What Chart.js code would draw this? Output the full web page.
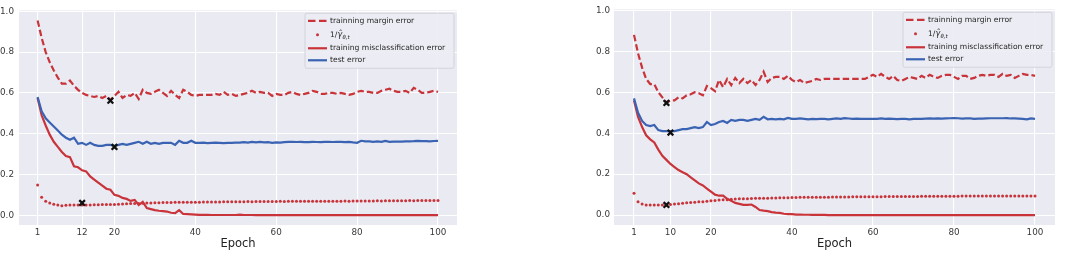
<!DOCTYPE html>
<html lang="en">
<head>
<meta charset="UTF-8">
<title>Margin error vs epoch</title>
<script src="https://cdn.jsdelivr.net/npm/chart.js"></script>
<style>
  html, body { margin: 0; padding: 0; background: #fff; }
  #wrap { position: relative; width: 1074px; height: 253px; }
  canvas { position: absolute; top: 0; }
  #left { left: 0; }
  #right { left: 537px; }
</style>
</head>
<body>
<div id="wrap">
  <canvas id="left" width="537" height="253"></canvas>
  <canvas id="right" width="537" height="253"></canvas>
</div>
<script>
// x categories
const epochs = [
  1, 2, 3, 4, 5, 6, 7, 8, 9, 10, 11, 12, 13, 14, 15, 16, 17, 18, 19, 20,
  21, 22, 23, 24, 25, 26, 27, 28, 29, 30, 31, 32, 33, 34, 35, 36, 37, 38, 39, 40,
  41, 42, 43, 44, 45, 46, 47, 48, 49, 50, 51, 52, 53, 54, 55, 56, 57, 58, 59, 60,
  61, 62, 63, 64, 65, 66, 67, 68, 69, 70, 71, 72, 73, 74, 75, 76, 77, 78, 79, 80,
  81, 82, 83, 84, 85, 86, 87, 88, 89, 90, 91, 92, 93, 94, 95, 96, 97, 98, 99, 100
];
const yTicks = [0, 0.2, 0.4, 0.6, 0.8, 1.0];
const leftXTicks = [1, 12, 20, 40, 60, 80, 100];
const rightXTicks = [1, 10, 20, 40, 60, 80, 100];

// left panel
const leftMargin = [
  0.955, 0.87, 0.80, 0.75, 0.71, 0.675, 0.645, 0.645, 0.66, 0.635,
  0.615, 0.60, 0.59, 0.585, 0.58, 0.585, 0.575, 0.585, 0.565, 0.585,
  0.605, 0.575, 0.59, 0.585, 0.60, 0.57, 0.615, 0.60, 0.595, 0.605,
  0.615, 0.60, 0.585, 0.61, 0.59, 0.575, 0.615, 0.605, 0.59, 0.585,
  0.59, 0.59, 0.59, 0.59, 0.595, 0.59, 0.605, 0.59, 0.595, 0.585,
  0.59, 0.595, 0.60, 0.61, 0.60, 0.605, 0.60, 0.60, 0.585, 0.595,
  0.59, 0.59, 0.60, 0.605, 0.595, 0.59, 0.595, 0.60, 0.61, 0.605,
  0.595, 0.595, 0.60, 0.60, 0.595, 0.60, 0.595, 0.59, 0.595, 0.605,
  0.61, 0.605, 0.605, 0.60, 0.60, 0.61, 0.615, 0.62, 0.61, 0.605,
  0.605, 0.61, 0.60, 0.625, 0.615, 0.60, 0.60, 0.605, 0.61, 0.605
];
const leftGamma = [
  0.148, 0.088, 0.068, 0.06, 0.054, 0.05, 0.046, 0.049, 0.05, 0.05,
  0.05, 0.05, 0.05, 0.05, 0.051, 0.051, 0.052, 0.052, 0.053, 0.052,
  0.054, 0.055, 0.056, 0.057, 0.058, 0.058, 0.059, 0.06, 0.06, 0.061,
  0.061, 0.062, 0.062, 0.062, 0.063, 0.063, 0.063, 0.064, 0.064, 0.064,
  0.064, 0.065, 0.065, 0.065, 0.065, 0.065, 0.066, 0.066, 0.066, 0.066,
  0.066, 0.066, 0.067, 0.066, 0.067, 0.067, 0.067, 0.067, 0.067, 0.067,
  0.068, 0.067, 0.068, 0.068, 0.068, 0.068, 0.068, 0.068, 0.069, 0.068,
  0.069, 0.069, 0.069, 0.069, 0.069, 0.069, 0.07, 0.069, 0.07, 0.07,
  0.07, 0.07, 0.07, 0.07, 0.071, 0.07, 0.071, 0.071, 0.071, 0.071,
  0.071, 0.071, 0.072, 0.071, 0.072, 0.072, 0.072, 0.072, 0.072, 0.072
];
const leftTrain = [
  0.575, 0.49, 0.44, 0.395, 0.36, 0.335, 0.31, 0.29, 0.285, 0.24,
  0.235, 0.22, 0.215, 0.19, 0.175, 0.16, 0.145, 0.13, 0.125, 0.10,
  0.095, 0.085, 0.08, 0.07, 0.075, 0.05, 0.065, 0.035, 0.03, 0.025,
  0.022, 0.02, 0.018, 0.012, 0.01, 0.025, 0.006, 0.005, 0.004, 0.003,
  0.002, 0.002, 0.002, 0.001, 0.001, 0.001, 0.001, 0.001, 0.001, 0.001,
  0.003, 0.001, 0.001, 0.001, 0, 0, 0, 0, 0, 0,
  0, 0, 0, 0, 0, 0, 0, 0, 0, 0,
  0, 0, 0, 0, 0, 0, 0, 0, 0, 0,
  0, 0, 0, 0, 0, 0, 0, 0, 0, 0,
  0, 0, 0, 0, 0, 0, 0, 0, 0, 0
];
const leftTest = [
  0.58, 0.51, 0.475, 0.455, 0.435, 0.415, 0.395, 0.38, 0.37, 0.38,
  0.35, 0.355, 0.345, 0.355, 0.345, 0.34, 0.34, 0.345, 0.345, 0.34,
  0.345, 0.35, 0.345, 0.35, 0.355, 0.36, 0.35, 0.36, 0.35, 0.355,
  0.35, 0.355, 0.355, 0.355, 0.345, 0.365, 0.355, 0.355, 0.365, 0.355,
  0.355, 0.356, 0.354, 0.355, 0.356, 0.355, 0.354, 0.355, 0.355, 0.356,
  0.356, 0.358, 0.356, 0.36, 0.357, 0.36, 0.357, 0.358, 0.355, 0.357,
  0.356, 0.358, 0.36, 0.36, 0.359, 0.36, 0.358, 0.358, 0.36, 0.359,
  0.358, 0.36, 0.36, 0.359, 0.36, 0.36, 0.358, 0.36, 0.357, 0.355,
  0.365, 0.362, 0.362, 0.36, 0.362, 0.36, 0.364, 0.36, 0.361, 0.361,
  0.361, 0.362, 0.362, 0.363, 0.365, 0.363, 0.363, 0.362, 0.364, 0.365
];
const leftMarkX = [19, 20, 12];
const leftMarkY = [0.562, 0.335, 0.06];

// right panel
const rightMargin = [
  0.88, 0.79, 0.72, 0.665, 0.64, 0.64, 0.60, 0.575, 0.55, 0.56,
  0.56, 0.575, 0.57, 0.585, 0.59, 0.60, 0.595, 0.585, 0.63, 0.62,
  0.605, 0.66, 0.625, 0.665, 0.635, 0.67, 0.645, 0.665, 0.645, 0.66,
  0.635, 0.66, 0.70, 0.65, 0.67, 0.675, 0.675, 0.665, 0.68, 0.66,
  0.65, 0.66, 0.645, 0.65, 0.655, 0.665, 0.66, 0.665, 0.665, 0.665,
  0.665, 0.665, 0.665, 0.665, 0.665, 0.665, 0.665, 0.665, 0.675, 0.685,
  0.675, 0.69, 0.675, 0.665, 0.68, 0.66, 0.655, 0.665, 0.675, 0.67,
  0.665, 0.68, 0.67, 0.685, 0.675, 0.67, 0.68, 0.685, 0.685, 0.675,
  0.665, 0.68, 0.68, 0.665, 0.67, 0.68, 0.685, 0.68, 0.685, 0.685,
  0.675, 0.69, 0.68, 0.685, 0.67, 0.68, 0.69, 0.685, 0.685, 0.68
];
const rightGamma = [
  0.107, 0.065, 0.055, 0.05, 0.05, 0.05, 0.05, 0.05, 0.05, 0.052,
  0.055, 0.056, 0.058, 0.06, 0.062, 0.063, 0.065, 0.066, 0.068, 0.07,
  0.072, 0.074, 0.075, 0.075, 0.078, 0.079, 0.08, 0.08, 0.08, 0.081,
  0.082, 0.082, 0.083, 0.083, 0.084, 0.084, 0.085, 0.085, 0.085, 0.086,
  0.086, 0.087, 0.087, 0.087, 0.087, 0.088, 0.088, 0.088, 0.088, 0.089,
  0.089, 0.089, 0.089, 0.089, 0.09, 0.09, 0.09, 0.09, 0.09, 0.09,
  0.09, 0.09, 0.091, 0.091, 0.091, 0.091, 0.091, 0.091, 0.091, 0.091,
  0.091, 0.092, 0.092, 0.092, 0.092, 0.092, 0.092, 0.092, 0.092, 0.092,
  0.092, 0.093, 0.093, 0.093, 0.093, 0.093, 0.093, 0.093, 0.093, 0.093,
  0.093, 0.093, 0.093, 0.094, 0.094, 0.094, 0.094, 0.094, 0.094, 0.094
];
const rightTrain = [
  0.56, 0.48, 0.43, 0.39, 0.37, 0.355, 0.32, 0.29, 0.27, 0.25,
  0.235, 0.22, 0.21, 0.20, 0.185, 0.17, 0.155, 0.145, 0.13, 0.115,
  0.10, 0.095, 0.095, 0.08, 0.07, 0.06, 0.055, 0.05, 0.05, 0.052,
  0.04, 0.025, 0.022, 0.02, 0.015, 0.012, 0.011, 0.007, 0.005, 0.005,
  0.003, 0.003, 0.002, 0.002, 0.001, 0.001, 0.001, 0.001, 0, 0,
  0, 0, 0, 0, 0, 0, 0, 0, 0, 0,
  0, 0, 0, 0, 0, 0, 0, 0, 0, 0,
  0, 0, 0, 0, 0, 0, 0, 0, 0, 0,
  0, 0, 0, 0, 0, 0, 0, 0, 0, 0,
  0, 0, 0, 0, 0, 0, 0, 0, 0, 0
];
const rightTest = [
  0.57, 0.50, 0.46, 0.44, 0.435, 0.44, 0.415, 0.41, 0.41, 0.41,
  0.41, 0.415, 0.42, 0.42, 0.425, 0.43, 0.425, 0.43, 0.455, 0.44,
  0.445, 0.455, 0.46, 0.45, 0.465, 0.46, 0.465, 0.465, 0.46, 0.465,
  0.47, 0.465, 0.48, 0.468, 0.47, 0.468, 0.47, 0.468, 0.475, 0.47,
  0.47, 0.472, 0.47, 0.468, 0.47, 0.469, 0.47, 0.47, 0.468, 0.47,
  0.472, 0.47, 0.474, 0.472, 0.47, 0.471, 0.47, 0.47, 0.47, 0.47,
  0.47, 0.472, 0.47, 0.471, 0.47, 0.469, 0.47, 0.47, 0.468, 0.47,
  0.47, 0.47, 0.471, 0.472, 0.471, 0.472, 0.471, 0.472, 0.473, 0.474,
  0.473, 0.471, 0.472, 0.472, 0.47, 0.471, 0.471, 0.472, 0.473, 0.473,
  0.473, 0.473, 0.474, 0.472, 0.472, 0.471, 0.47, 0.468, 0.472, 0.47
];
const rightMarkX = [9, 10, 9];
const rightMarkY = [0.548, 0.403, 0.05];

const RED = '#c8343a';
const BLUE = '#3a63b3';
const FONT = 'DejaVu Sans';

function pts(xs, ys) {
  return xs.map((x, i) => ({x: x, y: ys[i]}));
}

// seaborn-like grey plot area
const plotBg = {
  id: 'plotBg',
  beforeDraw(chart) {
    const {ctx, chartArea: a} = chart;
    ctx.save();
    ctx.fillStyle = '#eaeaf2';
    ctx.fillRect(a.left, a.top, a.right - a.left, a.bottom - a.top);
    ctx.restore();
  }
};

// legend box drawn inside top right of the plot
const boxLegend = {
  id: 'boxLegend',
  afterDatasetsDraw(chart) {
    const {ctx, chartArea: a} = chart;
    const w = 149, h = 55;
    const x0 = a.right - 3 - w, y0 = a.top + 3;
    ctx.save();
    ctx.beginPath();
    ctx.roundRect(x0, y0, w, h, 2);
    ctx.fillStyle = 'rgba(236,236,244,0.9)';
    ctx.fill();
    ctx.strokeStyle = 'rgba(205,205,215,0.8)';
    ctx.lineWidth = 1;
    ctx.stroke();

    const hx0 = x0 + 3, hx1 = x0 + 22, tx = x0 + 25;
    const rows = [y0 + 7.5, y0 + 21.5, y0 + 35, y0 + 47];
    ctx.lineCap = 'butt';

    // dashed
    ctx.strokeStyle = RED;
    ctx.lineWidth = 2.2;
    ctx.setLineDash([7.5, 3.5]);
    ctx.beginPath(); ctx.moveTo(hx0, rows[0]); ctx.lineTo(hx1, rows[0]); ctx.stroke();
    ctx.setLineDash([]);
    // dot
    ctx.fillStyle = RED;
    ctx.beginPath(); ctx.arc(x0 + 12.5, rows[1], 1.5, 0, Math.PI * 2); ctx.fill();
    // solid red
    ctx.beginPath(); ctx.moveTo(hx0, rows[2]); ctx.lineTo(hx1, rows[2]); ctx.stroke();
    // blue
    ctx.strokeStyle = BLUE;
    ctx.beginPath(); ctx.moveTo(hx0, rows[3]); ctx.lineTo(hx1, rows[3]); ctx.stroke();

    ctx.fillStyle = '#262626';
    ctx.textBaseline = 'middle';
    ctx.textAlign = 'left';
    ctx.font = '7.6px "' + FONT + '"';
    ctx.fillText('trainning margin error', tx, rows[0]);
    ctx.fillText('training misclassification error', tx, rows[2]);
    ctx.fillText('test error', tx, rows[3]);

    // 1/γ̂ with subscript θ,t
    let x = tx;
    ctx.font = '7.6px "' + FONT + '"';
    ctx.fillText('1/', x, rows[1]);
    x += ctx.measureText('1/').width;
    ctx.font = 'italic 8px "' + FONT + '"';
    ctx.fillText('\u03b3\u0302', x, rows[1]);
    x += ctx.measureText('\u03b3').width + 0.3;
    ctx.font = 'italic 5.4px "' + FONT + '"';
    ctx.fillText('\u03b8,t', x, rows[1] + 2.6);
    ctx.restore();
  }
};

function makeChart(id, s, xTicks, xMin, xMax, padLeft, padRight, yPad) {
  const lineDs = (label, ys, color, dash) => ({
    label: label,
    data: pts(epochs, ys),
    borderColor: color,
    borderWidth: 2.2,
    borderDash: dash,
    pointRadius: 0,
    tension: 0,
    fill: false
  });
  const datasets = [
    {
      label: 'marks',
      data: pts(s.markX, s.markY),
      showLine: false,
      pointStyle: 'crossRot',
      pointRadius: 4,
      pointBorderWidth: 2.3,
      borderColor: '#111',
      backgroundColor: '#111'
    },
    lineDs('trainning margin error', s.margin, RED, [6.5, 3]),
    lineDs('test error', s.test, BLUE, []),
    lineDs('training misclassification error', s.train, RED, []),
    {
      label: '1/gamma',
      data: pts(epochs, s.gamma),
      showLine: false,
      pointRadius: 1.5,
      pointBorderWidth: 0,
      pointBackgroundColor: RED,
      borderColor: RED
    }
  ];

  return new Chart(document.getElementById(id), {
    type: 'line',
    data: {datasets: datasets},
    plugins: [plotBg, boxLegend],
    options: {
      responsive: false,
      animation: false,
      devicePixelRatio: 1,
      layout: {padding: {left: padLeft, right: padRight, top: 4, bottom: 0}},
      plugins: {legend: {display: false}, tooltip: {enabled: false}},
      scales: {
        x: {
          type: 'linear',
          min: xMin,
          max: xMax,
          afterFit: sc => { sc.height = 28; },
          afterBuildTicks: sc => { sc.ticks = xTicks.map(v => ({value: v})); },
          grid: {color: '#ffffff', lineWidth: 1.1, drawTicks: false},
          border: {display: false},
          ticks: {
            padding: 2,
            maxRotation: 0,
            autoSkip: false,
            color: '#3a3a3a',
            font: {family: FONT, size: 8.8},
            callback: v => String(v)
          },
          title: {
            display: true,
            text: 'Epoch',
            color: '#222',
            font: {family: FONT, size: 11.5},
            padding: {top: 0, bottom: 2}
          }
        },
        y: {
          min: -0.048,
          max: 1.005,
          afterFit: sc => { sc.width = 19; },
          afterBuildTicks: sc => { sc.ticks = yTicks.map(v => ({value: v})); },
          grid: {color: '#ffffff', lineWidth: 1.1, drawTicks: false},
          border: {display: false},
          ticks: {
            padding: yPad,
            color: '#3a3a3a',
            font: {family: FONT, size: 8.8},
            callback: v => v.toFixed(1)
          }
        }
      }
    }
  });
}

Chart.defaults.font.family = FONT;

makeChart('left', {
  margin: leftMargin, gamma: leftGamma, train: leftTrain, test: leftTest,
  markX: leftMarkX, markY: leftMarkY
}, leftXTicks, -3.6, 104.7, 0, 80, 5);

makeChart('right', {
  margin: rightMargin, gamma: rightGamma, train: rightTrain, test: rightTest,
  markX: rightMarkX, markY: rightMarkY
}, rightXTicks, -3.94, 104.94, 58, 19, 4);
</script>
</body>
</html>
